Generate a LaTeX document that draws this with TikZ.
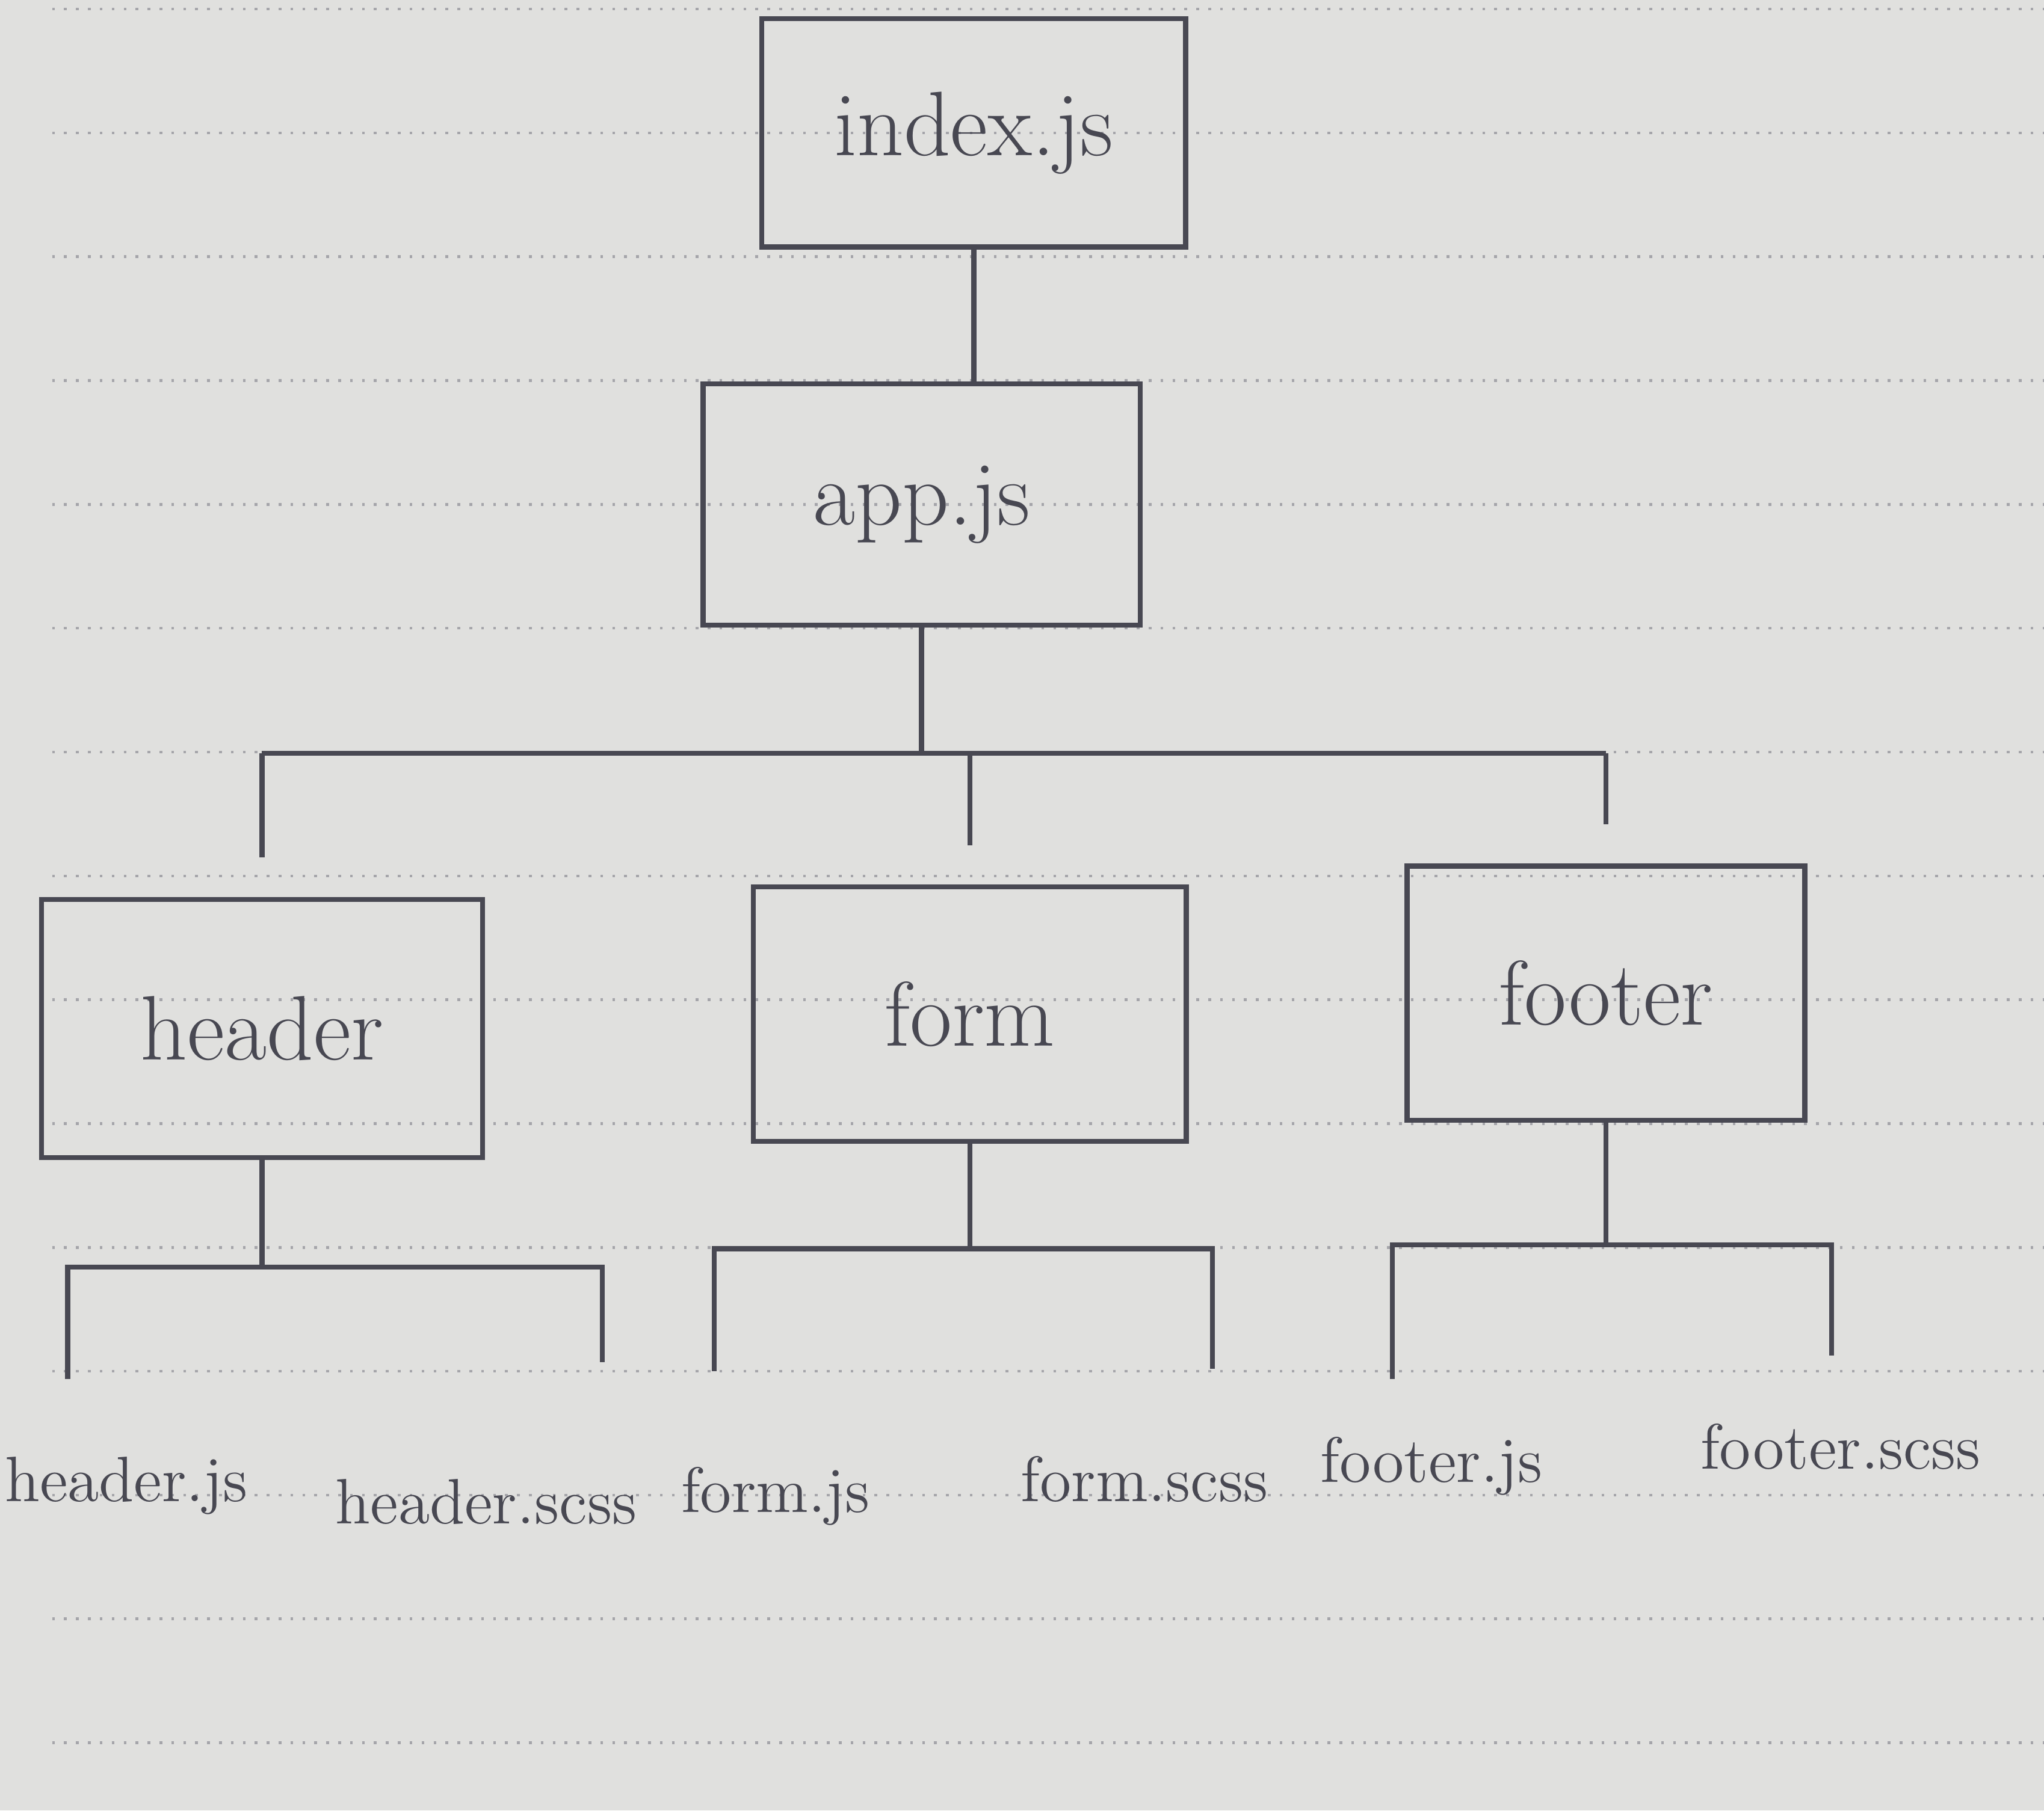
\documentclass[tikz,border=0pt]{standalone}
\usepackage{tikz}

\definecolor{paper}{RGB}{224,224,222}
\definecolor{ink}{RGB}{72,72,82}
\definecolor{ruling}{RGB}{165,165,170}

\tikzset{
  filebox/.style={draw=ink, line width=1.1pt, text=ink, inner sep=0pt,
    font=\fontsize{20}{24}\selectfont},
  leaf/.style={text=ink, inner sep=0pt, font=\fontsize{14}{17}\selectfont},
  wire/.style={draw=ink, line width=1.1pt},
}

\begin{document}
\begin{tikzpicture}[x=0.01cm,y=-0.01cm]

  % paper
  \fill[paper] (0,0) rectangle (1568,1389);
  \useasboundingbox (0,0) rectangle (1568,1389);
  \foreach \ry in {7,102,...,1389}
    \draw[ruling, dotted, line width=0.6pt] (40,\ry) -- (1568,\ry);

  % ========== entry ==========
  \node[filebox, minimum width=3.25cm, minimum height=1.75cm] (index) at (747,102) {index.js};
  \node[filebox, minimum width=3.35cm, minimum height=1.85cm] (app) at (707,387) {app.js};
  \draw[wire] (index.south) -- (index.south |- app.north);

  % ========== components ==========
  \node[filebox, minimum width=3.38cm, minimum height=1.98cm] (header) at (201,789) {header};
  \node[filebox, minimum width=3.32cm, minimum height=1.95cm] (form) at (744,778) {form};
  \node[filebox, minimum width=3.05cm, minimum height=1.95cm] (footer) at (1232,762) {footer};

  \coordinate (hub) at (712,578);
  \draw[wire] (app.south) -- (app.south |- hub);
  \draw[wire] (header.north |- hub) -- (footer.north |- hub);
  \foreach \comp in {header,form,footer}
    \draw[wire, shorten >=0.3cm] (\comp.north |- hub) -- (\comp.north);

  % ========== files ==========
  % header
  \coordinate (hsplit) at (201,972);
  \coordinate (hjs) at (52,1058);
  \coordinate (hscss) at (462,1045);
  \draw[wire] (header.south) -- (hsplit);
  \draw[wire] (hjs) |- (hsplit) -| (hscss);
  \node[leaf] (headerjs) at (97,1140) {header.js};
  \node[leaf] (headerscss) at (373,1152) {header.scss};

  % form
  \coordinate (fsplit) at (744,958);
  \coordinate (fjs) at (548,1052);
  \coordinate (fscss) at (930,1050);
  \draw[wire] (form.south) -- (fsplit);
  \draw[wire] (fjs) |- (fsplit) -| (fscss);
  \node[leaf] (formjs) at (595,1148) {form.js};
  \node[leaf] (formscss) at (878,1135) {form.scss};

  % footer
  \coordinate (tsplit) at (1232,955);
  \coordinate (tjs) at (1068,1058);
  \coordinate (tscss) at (1405,1040);
  \draw[wire] (footer.south) -- (tsplit);
  \draw[wire] (tjs) |- (tsplit) -| (tscss);
  \node[leaf] (footerjs) at (1098,1125) {footer.js};
  \node[leaf] (footerscss) at (1412,1110) {footer.scss};

\end{tikzpicture}
\end{document}
